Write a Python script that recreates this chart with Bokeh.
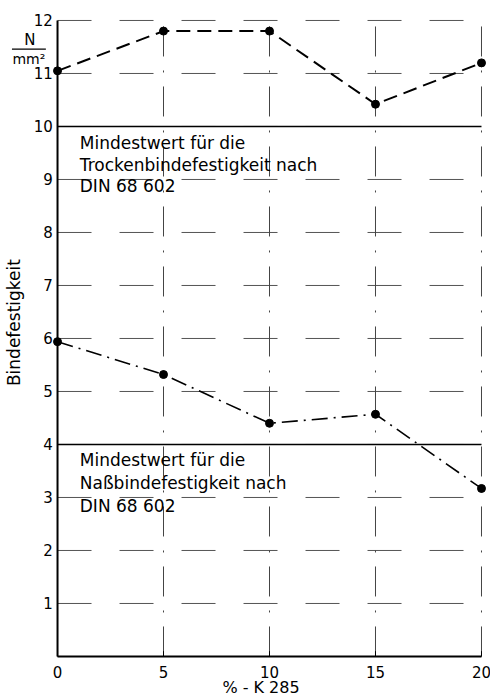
from bokeh.plotting import figure
from bokeh.models import Label, Range1d
from bokeh.core.properties import value
from bokeh.embed import file_html
from bokeh.resources import INLINE

# data
k285 = [0, 5, 10, 15, 20]
trocken = [11.05, 11.8, 11.8, 10.42, 11.2]
nass = [5.94, 5.32, 4.4, 4.57, 3.17]
min_trocken = 10
min_nass = 4
x_ticks = [0, 5, 10, 15, 20]
x_tick_labels = [str(v) for v in x_ticks]
y_ticks = list(range(1, 13))
y_tick_labels = [str(v) for v in y_ticks]
x_title = "% - K 285"
y_title = "Bindefestigkeit"
text_trocken = ["Mindestwert für die", "Trockenbindefestigkeit nach", "DIN 68 602"]
text_nass = ["Mindestwert für die", "Naßbindefestigkeit nach", "DIN 68 602"]

FONT = "DejaVu Sans"
x0, x1 = x_ticks[0], x_ticks[-1]
y_top = y_ticks[-1]
nx, ny = len(x_ticks), len(y_ticks)

p = figure(width=490, height=697, output_backend="svg", toolbar_location=None,
           x_range=Range1d(-2.69, 20.425), y_range=Range1d(-0.774, 12.377),
           x_axis_location=None, y_axis_location=None,
           min_border_left=0, min_border_right=0, min_border_top=0, min_border_bottom=0)
p.outline_line_color = None
p.background_fill_color = "white"
p.grid.visible = False

# grid (broken drafting lines)
p.segment(x0=[x0] * ny, x1=[x1] * ny, y0=y_ticks, y1=y_ticks,
          line_color="#555555", line_width=1, line_dash="34 28")
p.segment(x0=x_ticks[1:], x1=x_ticks[1:], y0=[0] * (nx - 1), y1=[y_top] * (nx - 1),
          line_color="#444444", line_width=1, line_dash="30 14 2 14")

# axes lines, ticks and labels
p.segment(x0=[x0], x1=[x0], y0=[0], y1=[y_top], line_color="black", line_width=2)
p.segment(x0=[x0], x1=[x1], y0=[0], y1=[0], line_color="black", line_width=2)
p.segment(x0=x_ticks, x1=x_ticks, y0=[0] * nx, y1=[0.1] * nx, line_color="black", line_width=1)
p.text(x=[-0.22] * ny, y=y_ticks, text=y_tick_labels, text_font=value(FONT),
       text_font_size="15px", text_align="right", text_baseline="middle", text_color="black")
p.text(x=x_ticks, y=[-0.3] * nx, text=x_tick_labels, text_font=value(FONT),
       text_font_size="15px", text_align="center", text_baseline="middle", text_color="black")
p.add_layout(Label(x=9.6, y=-0.59, text=x_title, text_font=FONT, text_font_size="16px",
                   text_align="center", text_baseline="middle", text_color="black"))

# minimum-value lines
p.segment(x0=[x0, x0], x1=[x1, x1], y0=[min_trocken, min_nass], y1=[min_trocken, min_nass],
          line_color="black", line_width=1.6)

p.line(k285, trocken, line_color="black", line_width=2, line_dash="14 7")
p.scatter(k285, trocken, size=8, color="black")
p.line(k285, nass, line_color="black", line_width=1.6, line_dash="16 6 2 6")
p.scatter(k285, nass, size=8, color="black")

for i, t in enumerate(text_trocken):
    p.add_layout(Label(x=1.05, y=min_trocken - 0.32 - i * 0.4, text=t, text_font=FONT,
                       text_font_size="17px", text_baseline="middle", text_color="black"))
for i, t in enumerate(text_nass):
    p.add_layout(Label(x=1.05, y=min_nass - 0.3 - i * 0.43, text=t, text_font=FONT,
                       text_font_size="17px", text_baseline="middle", text_color="black"))

# y label and unit
p.add_layout(Label(x=-2.05, y=6.3, text=y_title, angle=1.5708, text_font=FONT,
                   text_font_size="17px", text_align="center", text_baseline="middle",
                   text_color="black"))
p.add_layout(Label(x=-1.3, y=11.64, text="N", text_font=FONT, text_font_size="15px",
                   text_align="center", text_baseline="middle", text_color="black"))
p.add_layout(Label(x=-1.35, y=11.27, text="mm²", text_font=FONT, text_font_size="14px",
                   text_align="center", text_baseline="middle", text_color="black"))
p.segment(x0=[-2.15], x1=[-0.55], y0=[11.46], y1=[11.46], line_color="black", line_width=1.2)

open("out.html", "w").write(file_html(p, INLINE))
